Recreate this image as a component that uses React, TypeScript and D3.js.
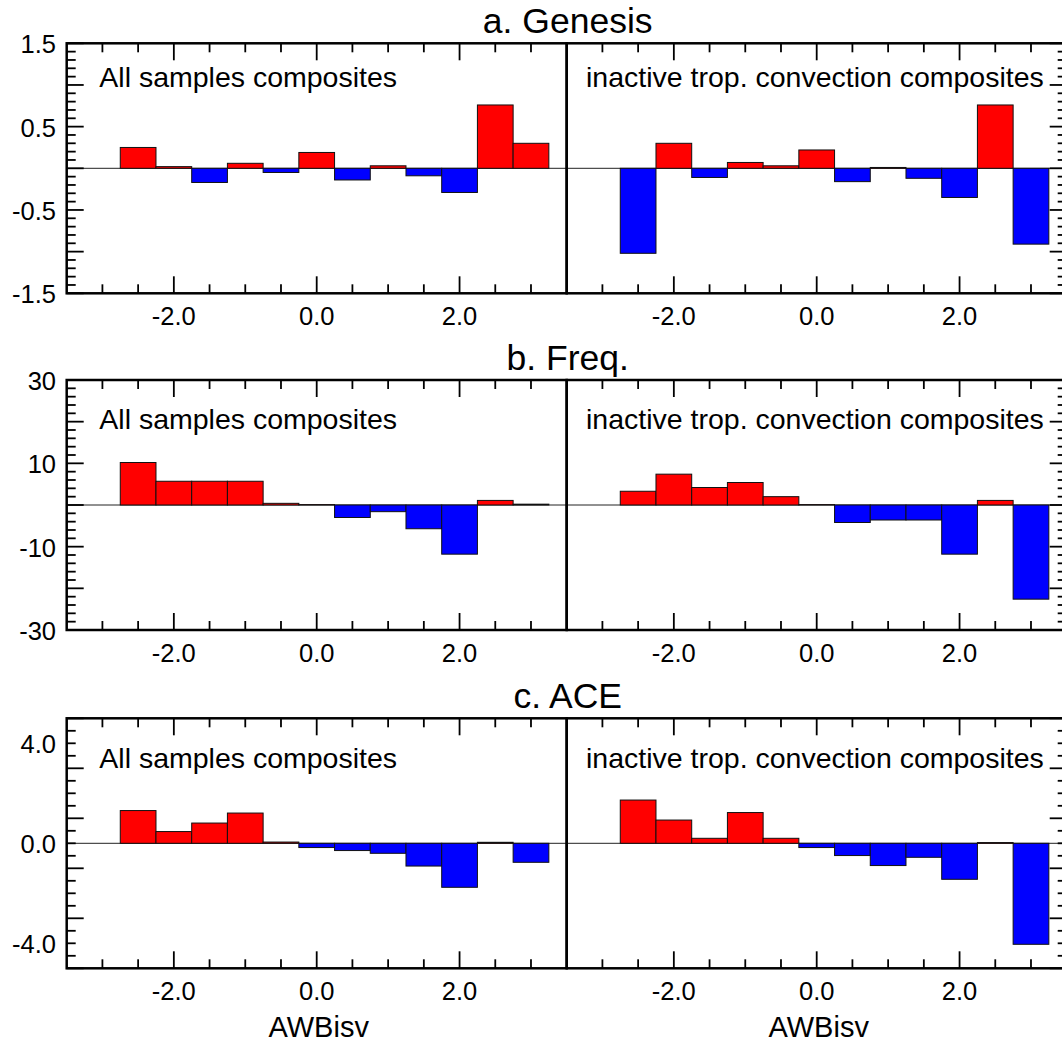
import React, { useEffect, useRef } from 'react';
import * as d3 from 'd3';

// bin centres on the AWBisv axis
const binCenters = [-2.5, -2.0, -1.5, -1.0, -0.5, 0.0, 0.5, 1.0, 1.5, 2.0, 2.5, 3.0];

const genesisAll = [0.25, 0.02, -0.17, 0.06, -0.05, 0.19, -0.14, 0.03, -0.09, -0.29, 0.76, 0.3];
const genesisInactive = [-1.02, 0.3, -0.11, 0.07, 0.03, 0.22, -0.16, 0.01, -0.12, -0.35, 0.76, -0.91];
const freqAll = [10.2, 5.7, 5.7, 5.7, 0.4, 0.1, -3.0, -1.6, -5.7, -11.8, 1.1, 0.2];
const freqInactive = [3.3, 7.4, 4.2, 5.4, 2.0, 0.1, -4.2, -3.6, -3.6, -11.8, 1.1, -22.6];
const aceAll = [1.31, 0.47, 0.81, 1.21, 0.05, -0.17, -0.29, -0.4, -0.91, -1.76, 0.04, -0.76];
const aceInactive = [1.73, 0.93, 0.2, 1.23, 0.2, -0.17, -0.49, -0.89, -0.56, -1.44, 0.03, -4.04];

const panelTitles = ['a. Genesis', 'b. Freq.', 'c. ACE'];
const compositeLabels = ['All samples composites', 'inactive trop. convection composites'];
const xTickLabels = [-2, 0, 2];
const genesisTickLabels = [1.5, 0.5, -0.5, -1.5];
const freqTickLabels = [30, 10, -10, -30];
const aceTickLabels = [4, 0, -4];
const xAxisTitle = 'AWBisv';

const FONT = '"Liberation Sans", Arial, Helvetica, sans-serif';

const steps = (lo: number, hi: number, step: number) =>
  d3.range(Math.round((hi - lo) / step) + 1).map(i => +(lo + i * step).toFixed(6));

const rows = [
  { title: panelTitles[0], data: [genesisAll, genesisInactive], domain: [-1.5, 1.5], major: 0.5, minor: 0.1, labels: genesisTickLabels, fmt: d3.format('.1f'), top: 43.3, textDy: 43.4 },
  { title: panelTitles[1], data: [freqAll, freqInactive], domain: [-30, 30], major: 10, minor: 2, labels: freqTickLabels, fmt: d3.format('d'), top: 380, textDy: 49.3 },
  { title: panelTitles[2], data: [aceAll, aceInactive], domain: [-5, 5], major: 2, minor: 0.5, labels: aceTickLabels, fmt: d3.format('.1f'), top: 718.3, textDy: 50 },
];

function App() {
  const ref = useRef<SVGSVGElement>(null);

  useEffect(() => {
    if (!ref.current) return;
    const svg = d3.select(ref.current);
    svg.selectAll('*').remove();

    const panelW = 500;
    const panelH = 250;
    const left0 = 66.7;
    const majorLen = 17;
    const minorLen = 9;

    rows.forEach((row, r) => {
      const y = d3.scaleLinear().domain(row.domain).range([row.top + panelH, row.top]);

      row.data.forEach((values, c) => {
        const x0 = left0 + c * panelW;
        const x = d3.scaleLinear().domain([-3.5, 3.5]).range([x0, x0 + panelW]);
        const g = svg.append('g');

        // zero line
        g.append('line')
          .attr('x1', x0).attr('x2', x0 + panelW)
          .attr('y1', y(0)).attr('y2', y(0))
          .attr('stroke', '#222').attr('stroke-width', 1);

        // bars
        const bw = x(0.5) - x(0);
        g.selectAll('rect.bar')
          .data(values)
          .enter()
          .append('rect')
          .attr('class', 'bar')
          .attr('x', (d, i) => x(binCenters[i]) - bw / 2)
          .attr('y', d => y(Math.max(0, d)))
          .attr('width', bw)
          .attr('height', d => Math.abs(y(d) - y(0)))
          .attr('fill', d => (d >= 0 ? '#ff0000' : '#0000ff'))
          .attr('stroke', '#111')
          .attr('stroke-width', 1);

        // x ticks (top + bottom, inward)
        const xMinor = steps(-3, 3, 0.5);
        xMinor.forEach(t => {
          const len = xTickLabels.includes(t) ? majorLen : minorLen;
          g.append('line')
            .attr('x1', x(t)).attr('x2', x(t))
            .attr('y1', row.top + panelH).attr('y2', row.top + panelH - len)
            .attr('stroke', '#000').attr('stroke-width', 1.8);
          g.append('line')
            .attr('x1', x(t)).attr('x2', x(t))
            .attr('y1', row.top).attr('y2', row.top + len)
            .attr('stroke', '#000').attr('stroke-width', 1.8);
        });

        xTickLabels.forEach(t => {
          g.append('text')
            .attr('x', x(t))
            .attr('y', row.top + panelH + 32)
            .attr('text-anchor', 'middle')
            .attr('font-family', FONT)
            .attr('font-size', 25.5)
            .text(d3.format('.1f')(t).replace('−', '-'));
        });

        // y ticks on the outer side
        const yEdge = c === 0 ? x0 : x0 + panelW;
        const dir = c === 0 ? 1 : -1;
        const majors = steps(row.domain[0], row.domain[1], row.major);
        steps(row.domain[0], row.domain[1], row.minor).forEach(t => {
          const isMajor = majors.some(m => Math.abs(m - t) < 1e-6);
          const len = isMajor ? majorLen : minorLen;
          g.append('line')
            .attr('x1', yEdge).attr('x2', yEdge + dir * len)
            .attr('y1', y(t)).attr('y2', y(t))
            .attr('stroke', '#000').attr('stroke-width', 1.8);
        });

        if (c === 0) {
          row.labels.forEach(t => {
            g.append('text')
              .attr('x', 56)
              .attr('y', y(t) + 10)
              .attr('text-anchor', 'end')
              .attr('font-family', FONT)
              .attr('font-size', 25.5)
              .text(row.fmt(t).replace('−', '-'));
          });
        }

        // frame
        g.append('rect')
          .attr('x', x0).attr('y', row.top)
          .attr('width', panelW).attr('height', panelH)
          .attr('fill', 'none')
          .attr('stroke', '#000')
          .attr('stroke-width', 2.5);

        g.append('text')
          .attr('x', c === 0 ? 99.3 : 586)
          .attr('y', row.top + row.textDy)
          .attr('font-family', FONT)
          .attr('font-size', 28.5)
          .text(compositeLabels[c]);

        if (r === rows.length - 1) {
          g.append('text')
            .attr('x', x(0) + 2)
            .attr('y', 1037)
            .attr('text-anchor', 'middle')
            .attr('font-family', FONT)
            .attr('font-size', 29)
            .text(xAxisTitle);
        }
      });

      svg.append('text')
        .attr('x', left0 + panelW + 1)
        .attr('y', row.top - 10.5)
        .attr('text-anchor', 'middle')
        .attr('font-family', FONT)
        .attr('font-size', 35.5)
        .text(row.title);
    });
  }, []);

  return (
    <svg
      ref={ref}
      width={1062}
      height={1044}
      style={{ position: 'absolute', left: 0, top: 0, background: '#fff' }}
    />
  );
}

export default App;
